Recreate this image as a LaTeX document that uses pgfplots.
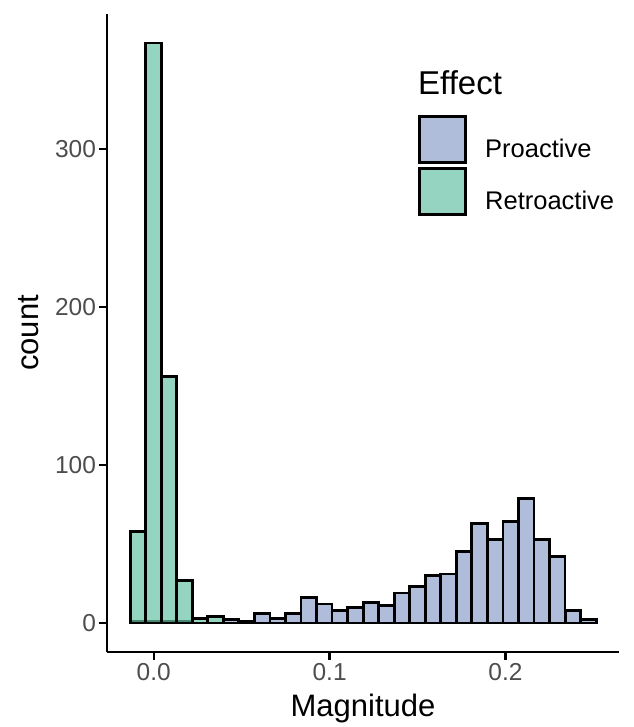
\documentclass[border=0pt]{standalone}
\usepackage{fontspec}
\setmainfont{Liberation Sans}
\usepackage{pgfplots}
\pgfplotsset{compat=1.18}
\definecolor{pro}{HTML}{8DA0CB}
\definecolor{retro}{HTML}{66C2A5}
\definecolor{tickgray}{HTML}{4D4D4D}
\begin{document}
\begin{tikzpicture}
\begin{axis}[
 name=ax,
 scale only axis, width=512pt, height=638pt,
 xmin=-0.0266, xmax=0.2646, ymin=-18.35, ymax=385.35,
 axis x line*=bottom, axis y line*=left,
 axis line style={line width=2.2pt, -},
 tick align=outside, major tick length=7.5pt,
 tick style={line width=2.2pt, black},
 xtick={0,0.1,0.2}, xticklabels={0.0,0.1,0.2},
 ytick={0,100,200,300}, yticklabels={0,100,200,300},
 /pgf/number format/assume math mode=true,
 ticklabel style={font=\fontsize{24.5}{28}\selectfont, text=tickgray},
 xlabel={Magnitude}, ylabel={count},
 xlabel shift=7pt, ylabel shift=9pt,
 label style={font=\fontsize{31}{36}\selectfont},
 clip=false,
 legend image code/.code={\draw[#1, line width=3pt] (0pt,-14pt) rectangle (46pt,32pt);},
 legend style={at={(0.6074,0.8417)}, anchor=north west, draw=none, fill=none,
   font=\fontsize{25.5}{28}\selectfont, column sep=18pt, row sep=3pt, inner sep=0pt,
   nodes={inner sep=0pt}},
 legend cell align=left,
]
\addplot[ybar, bar width=0.00883, bar shift=0pt, fill=pro, fill opacity=0.7, draw=black, line width=2.8pt] coordinates {
(-0.00899,1) (-0.00016,1) (0.00867,1) (0.0175,1) (0.0263,0) (0.0352,0)
(0.0440,2) (0.0528,1) (0.0617,6) (0.0705,3) (0.0793,6) (0.0882,16)
(0.0970,12) (0.1058,8) (0.1147,10) (0.1235,13) (0.1323,11) (0.1412,19)
(0.1500,23) (0.1588,30) (0.1677,31) (0.1765,45) (0.1853,63) (0.1942,53)
(0.2030,64) (0.2118,79) (0.2207,53) (0.2295,42) (0.2384,8) (0.2472,2)
};
\addlegendentry{Proactive}
\addplot[ybar, bar width=0.00883, bar shift=0pt, fill=retro, fill opacity=0.7, draw=black, line width=2.8pt] coordinates {
(-0.00899,58) (-0.00016,367) (0.00867,156) (0.0175,27) (0.0263,3) (0.0352,4)
(0.0440,0) (0.0528,0) (0.0617,0) (0.0705,0) (0.0793,0) (0.0882,0)
(0.0970,0) (0.1058,0) (0.1147,0) (0.1235,0) (0.1323,0) (0.1412,0)
(0.1500,0) (0.1588,0) (0.1677,0) (0.1765,0) (0.1853,0) (0.1942,0)
(0.2030,0) (0.2118,0) (0.2207,0) (0.2295,0) (0.2384,0) (0.2472,0)
};
\addlegendentry{Retroactive}
\node[anchor=base west, font=\fontsize{33}{38}\selectfont, inner sep=0pt] at (rel axis cs:0.6074,0.8741) {Effect};
\end{axis}
\path (ax.south west) ++(-107pt,-75pt) rectangle ++(633pt,727pt);
\end{tikzpicture}
\end{document}
